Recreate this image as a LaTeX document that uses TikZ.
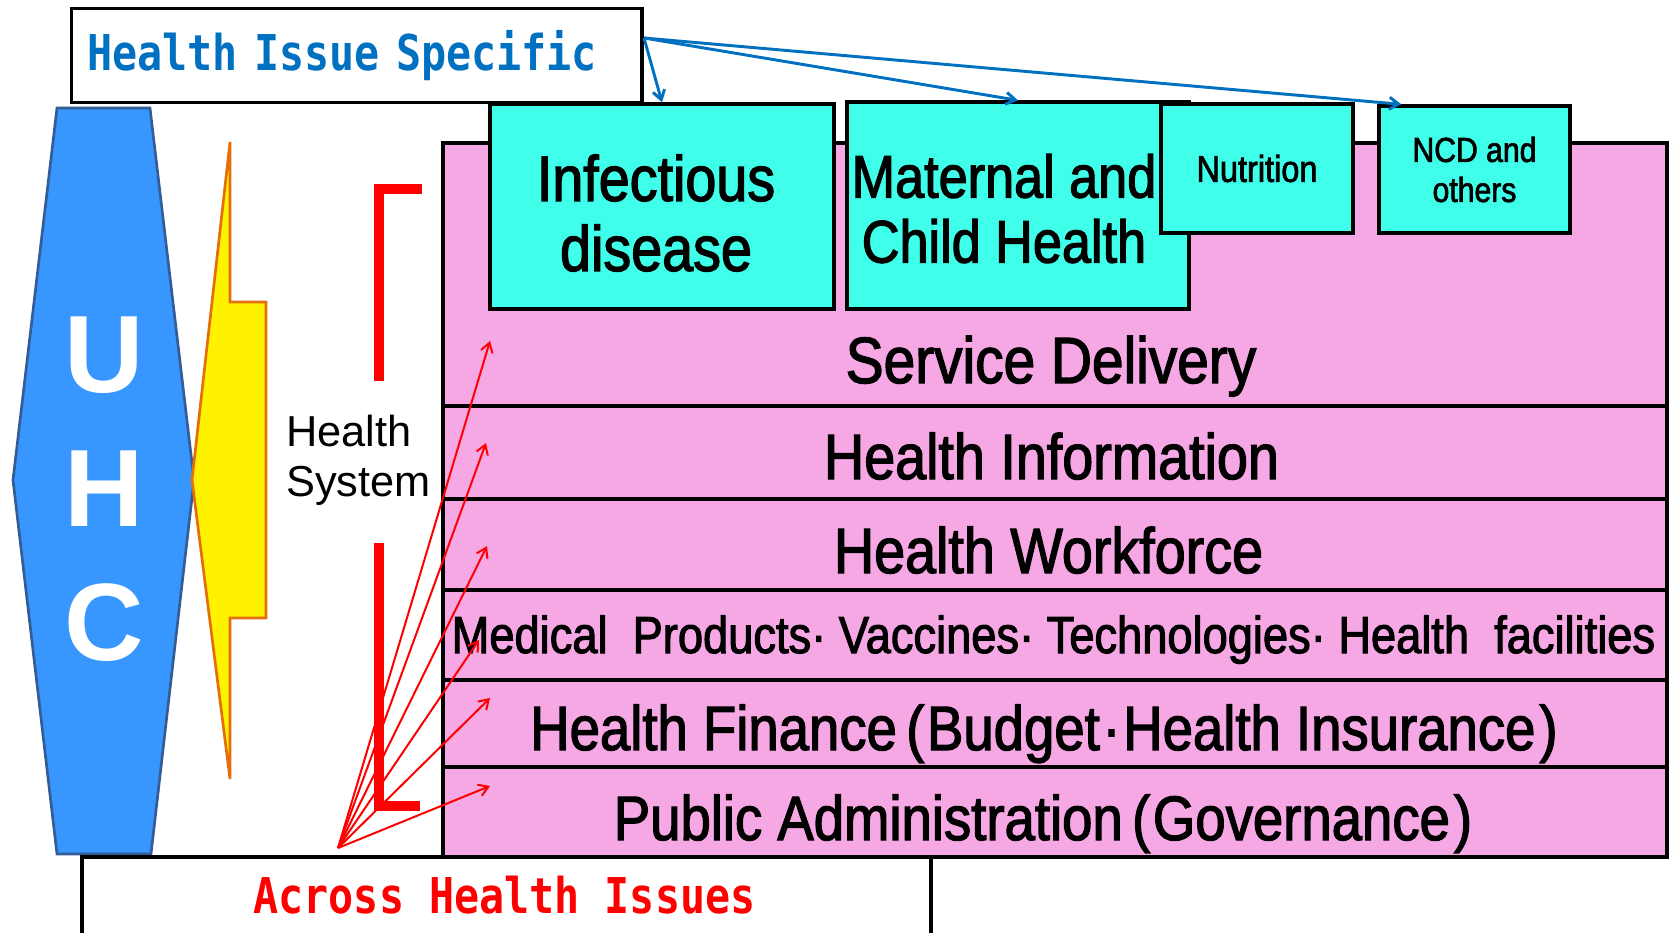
\documentclass[tikz,border=0pt]{standalone}
\usepackage{fontspec}
\setmainfont{Liberation Sans}
\newfontfamily\narrowfont[FakeStretch=0.87,FakeBold=2]{Liberation Sans}
\newfontfamily\gridfont[FakeStretch=0.845]{DejaVu Sans Mono}
\usetikzlibrary{arrows.meta}
\definecolor{issueblue}{RGB}{0,112,192}
\definecolor{uhcblue}{RGB}{56,150,255}
\definecolor{uhcedge}{RGB}{52,92,150}
\definecolor{boltorange}{RGB}{230,110,10}
\definecolor{diseasecyan}{RGB}{64,255,234}
\definecolor{systempink}{RGB}{246,168,228}
\newcommand{\setsz}[2]{\fontsize{#1pt}{#2pt}\selectfont}

\begin{document}
\begin{tikzpicture}[x=0.75pt,y=0.75pt,yscale=-1,xscale=1,
  frame/.style={line width=2.5pt},
  cyanbox/.style={draw, line width=2.5pt, fill=diseasecyan, inner sep=0pt, align=center},
  rowtext/.style={anchor=base, inner sep=0.75pt, font={\narrowfont\setsz{#1}{#1}}},
  gridtext/.style={font={\gridfont\bfseries\setsz{37}{44}}},
  redarrow/.style={red, line width=1.5pt, -{Straight Barb[length=7pt,width=9pt]}},
  bluearrow/.style={issueblue, line width=2.2pt, -{Straight Barb[length=7pt,width=9pt]}}]
\useasboundingbox (0,0) rectangle (1671,932);
%Shape: Hexagon [UHC]
\draw [uhcedge, fill=uhcblue, line width=2pt] (57,108) -- (150,108) -- (194,480) -- (151,854) -- (57,854) -- (13,480) -- cycle ;
% Text Node
\node [white, font={\bfseries\setsz{82.5}{100.5}}, align=center, inner sep=0pt] (uhc) at (104,489) {U\\H\\C};
%Shape: Bolt
\draw [boltorange, fill=yellow, line width=2pt] (230,142) -- (230,302) -- (266,302) -- (266,618) -- (230,618) -- (230,779) -- (192,480) -- cycle ;
%Shape: Bracket
\draw [red, line width=7.5pt] (422,189) -| (379,381) ;
\draw [red, line width=7.5pt] (379,543) |- (420,806) ;
% Text Node
\node [anchor=west, align=left, inner sep=0pt, font={\setsz{32.5}{37.5}}] (hsys) at (286,460) {Health\\System};
%Shape: Frame [across]
\draw [frame] (82,945) |- (931,857) -- (931,945) ;
%Shape: Rectangle [system]
\draw [line width=3pt, fill=systempink] (443,143) rectangle (1667,857) ;
\foreach \y in {406,499,590,680,767}
  \draw [line width=3pt] (443,\y) -- (1667,\y) ;
% Text Node
\node [rowtext=49] (sd) at (1051,383) {Service Delivery};
\node [rowtext=48] (hinfo) at (1051.5,479) {Health Information};
\node [rowtext=48] (hwork) at (1048.5,573) {Health Workforce};
\node [rowtext=39] (medprod) at (1053.5,653) {Medical\ \ Products· Vaccines· Technologies· Health\ \ facilities};
\node [rowtext=47] (finance) at (1044,750) {Health Finance\kern7pt(\kern2pt Budget\kern2pt·\kern2pt Health Insurance\kern3pt)};
\node [rowtext=47] (padmin) at (1043,840) {Public Administration\kern7pt(\kern2pt Governance\kern3pt)};
%Shape: Rectangle [issues]
\node [cyanbox, minimum width=258pt, minimum height=153.75pt] (inf) at (662,206.5) {};
\node [align=center, inner sep=0pt, font={\narrowfont\setsz{48}{52.5}}] (inftext) at (656,213) {Infectious\\disease};
\node [cyanbox, minimum width=256.5pt, minimum height=155.25pt] (mch) at (1018,205.5) {};
\node [align=center, inner sep=0pt, font={\narrowfont\setsz{45}{48.75}}] (mchtext) at (1004,208.6) {Maternal and\\Child Health};
\node [cyanbox, minimum width=144pt, minimum height=96.75pt, font={\narrowfont\setsz{28}{30}}] (nut) at (1257,168.5) {Nutrition};
\node [cyanbox, minimum width=143.25pt, minimum height=95.25pt, font={\narrowfont\setsz{26}{30}}] (ncd) at (1474.5,169.5) {NCD and\\others};
% Text Node
\node [draw, frame, gridtext, text=issueblue, text width=404pt, inner xsep=12pt, inner ysep=0pt, minimum height=70.5pt, align=left] (specific) at (356.5,55.6) {Health Issue Specific};
\node [gridtext, text=red, anchor=base, inner sep=0pt] (across) at (504.5,913) {Across Health Issues};
% Arrows
\coordinate (specout) at (644,38);
\draw [bluearrow] (specout) -- (inf.north) ;
\draw [bluearrow] (specout) -- (mch.north) ;
\draw [bluearrow] (specout) -- ([xshift=18pt]ncd.north west) ;
\coordinate (src) at (338,848);
\coordinate (sd-tip) at (490,341);
\coordinate (hinfo-tip) at (486,443);
\coordinate (hwork-tip) at (487,546);
\coordinate (medprod-tip) at (479,640);
\coordinate (finance-tip) at (490,698);
\coordinate (padmin-tip) at (490,786);
\foreach \t in {sd,hinfo,hwork,medprod,finance,padmin}
  \draw [redarrow] (src) -- (\t-tip) ;
\end{tikzpicture}
\end{document}
